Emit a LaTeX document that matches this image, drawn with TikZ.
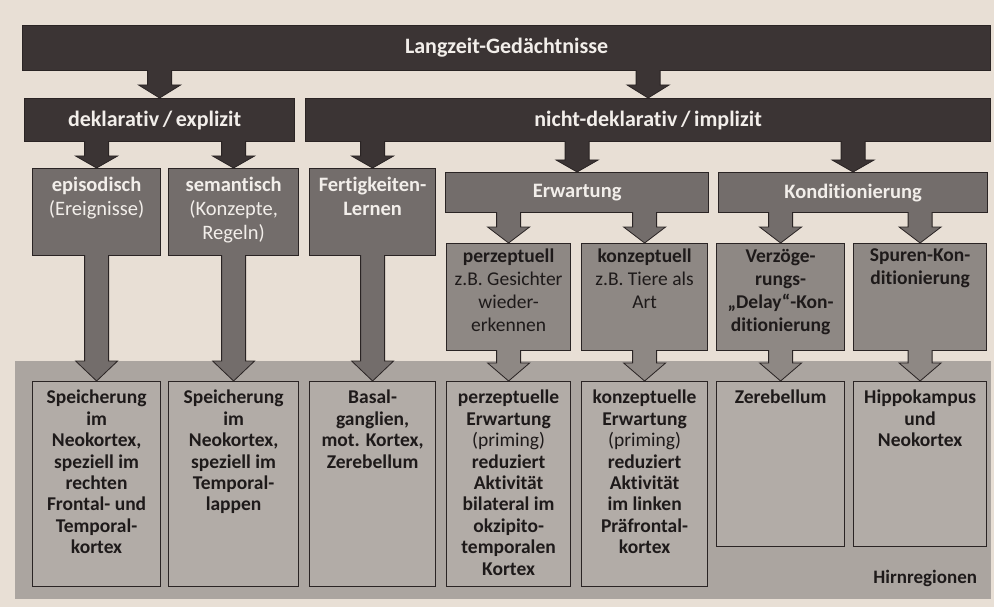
\documentclass[tikz,border=0pt]{standalone}
\usepackage{fontspec}
\setmainfont{Carlito}[Ligatures=NoCommon]
\usetikzlibrary{calc}
\definecolor{bgc}{HTML}{E8DFD5}
\definecolor{darkbar}{HTML}{3B3434}
\definecolor{midbox}{HTML}{736D6B}
\definecolor{lightbox}{HTML}{8E8884}
\definecolor{regionc}{HTML}{ABA5A0}
\definecolor{lowbox}{HTML}{B2ACA7}
\definecolor{outl}{HTML}{2A2424}
\definecolor{lighttxt}{HTML}{F2EEEA}
\definecolor{darktxt}{HTML}{1E1A1A}
\newcommand{\blk}[4]{%
  \path[draw=outl, line width=0.8pt, fill=#1, line join=miter]
    let \p1=(#2), \p2=(#3) in
    (\x2-12pt,\y1+1pt) -- (\x2-12pt,\y2+#4pt) -- (\x2-21pt,\y2+#4pt) -- (\x2,\y2)
    -- (\x2+21pt,\y2+#4pt) -- (\x2+12pt,\y2+#4pt) -- (\x2+12pt,\y1+1pt);
}
\begin{document}
\begin{tikzpicture}[x=1pt,y=-1pt,
  boxbase/.style={draw=outl, line width=1.2pt, inner sep=0pt, anchor=north west},
  barbox/.style={boxbase, fill=darkbar, text=lighttxt, font=\fontsize{22}{26}\selectfont\bfseries},
  midb/.style={boxbase, fill=midbox},
  lightb/.style={boxbase, fill=lightbox},
  lowb/.style={boxbase, fill=lowbox},
  midtxt/.style={anchor=north, align=center, inner sep=0pt, text=lighttxt, font=\fontsize{20.5}{24}\selectfont},
  smalltxt/.style={anchor=north, align=center, inner sep=0pt, text=darktxt, font=\fontsize{19.5}{23}\selectfont},
  lowtxt/.style={anchor=north, align=center, inner sep=0pt, text=darktxt, font=\fontsize{19.5}{21.4}\selectfont\bfseries},
]
\useasboundingbox (0,0) rectangle (994,607);
\fill[bgc] (0,0) rectangle (994,607);
% region
\node[boxbase, draw=none, fill=regionc, minimum width=976pt, minimum height=238pt] (region) at (14,360) {};
\node[anchor=east, inner sep=0pt, text=darktxt, font=\fontsize{19}{21}\selectfont\bfseries] (hirn) at ($(region.south east)+(-14,-21)$) {Hirnregionen};
% bars
\node[barbox, minimum width=968pt, minimum height=45pt] (top) at (22,25) {Langzeit-Gedächtnisse};
\node[barbox, minimum width=270pt, minimum height=43pt] (dek) at (24,98) {};
\node[inner sep=0pt, text=lighttxt, font=\fontsize{22}{26}\selectfont\bfseries] (dektxt) at ($(dek.center)+(-5,0)$) {deklarativ\,/\,explizit};
\node[barbox, minimum width=685pt, minimum height=43pt] (nd) at (305,98) {nicht-deklarativ\,/\,implizit};
% row 3
\node[midb, minimum width=128pt, minimum height=87pt] (epi) at (32,168) {};
\node[midb, minimum width=130pt, minimum height=87pt] (sem) at (168,168) {};
\node[midb, minimum width=126pt, minimum height=87pt] (fer) at (309,168) {};
\node[midb, minimum width=263pt, minimum height=40pt, text=lighttxt, font=\fontsize{20.5}{24}\selectfont\bfseries] (erw) at (445,172) {Erwartung};
\node[midb, minimum width=269pt, minimum height=40pt, text=lighttxt, font=\fontsize{20.5}{24}\selectfont\bfseries] (kon) at (718,172) {Konditionierung};
\node[midtxt] (epitxt) at ($(epi.north)+(0,9)$) {\textbf{episodisch}\\(Ereignisse)};
\node[midtxt] (semtxt) at ($(sem.north)+(0,9)$) {\textbf{semantisch}\\(Konzepte,\\Regeln)};
\node[midtxt] (fertxt) at ($(fer.north)+(0,9)$) {\textbf{Fertigkeiten-}\\\textbf{Lernen}};
% row 4
\node[lightb, minimum width=124pt, minimum height=107pt] (per) at (446,243) {};
\node[lightb, minimum width=126pt, minimum height=107pt] (kzp) at (581,243) {};
\node[lightb, minimum width=128pt, minimum height=107pt] (ver) at (716,243) {};
\node[lightb, minimum width=133pt, minimum height=107pt] (spu) at (853,243) {};
\node[smalltxt] (pertxt) at ($(per.north)+(0,6)$) {\textbf{perzeptuell}\\z.B. Gesichter\\wieder-\\erkennen};
\node[smalltxt] (kzptxt) at ($(kzp.north)+(0,6)$) {\textbf{konzeptuell}\\z.B. Tiere als\\Art};
\node[smalltxt, font=\fontsize{19.5}{23}\selectfont\bfseries] (vertxt) at ($(ver.north)+(0,6)$) {Verzöge-\\rungs-\\„Delay“-Kon-\\ditionierung};
\node[smalltxt, font=\fontsize{19.5}{23}\selectfont\bfseries] (sputxt) at ($(spu.north)+(0,6)$) {Spuren-Kon-\\ditionierung};
% bottom boxes
\node[lowb, minimum width=128pt, minimum height=205pt] (b1) at (32,381) {};
\node[lowb, minimum width=130pt, minimum height=205pt] (b2) at (168,381) {};
\node[lowb, minimum width=126pt, minimum height=205pt] (b3) at (309,381) {};
\node[lowb, minimum width=124pt, minimum height=205pt] (b4) at (446,381) {};
\node[lowb, minimum width=126pt, minimum height=205pt] (b5) at (581,381) {};
\node[lowb, minimum width=128pt, minimum height=165pt] (b6) at (716,381) {};
\node[lowb, minimum width=133pt, minimum height=165pt] (b7) at (853,381) {};
\node[lowtxt] (b1t) at ($(b1.north)+(0,9)$) {Speicherung\\im\\Neokortex,\\speziell im\\rechten\\Frontal- und\\Temporal-\\kortex};
\node[lowtxt] (b2t) at ($(b2.north)+(0,9)$) {Speicherung\\im\\Neokortex,\\speziell im\\Temporal-\\lappen};
\node[lowtxt] (b3t) at ($(b3.north)+(0,9)$) {Basal-\\ganglien,\\mot. Kortex,\\Zerebellum};
\node[lowtxt] (b4t) at ($(b4.north)+(0,9)$) {perzeptuelle\\Erwartung\\{\mdseries(priming)}\\reduziert\\Aktivität\\bilateral im\\okzipito-\\temporalen\\Kortex};
\node[lowtxt] (b5t) at ($(b5.north)+(0,9)$) {konzeptuelle\\Erwartung\\{\mdseries(priming)}\\reduziert\\Aktivität\\im linken\\Präfrontal-\\kortex};
\node[lowtxt] (b6t) at ($(b6.north)+(0,9)$) {Zerebellum};
\node[lowtxt] (b7t) at ($(b7.north)+(0,9)$) {Hippokampus\\und\\Neokortex};
% arrows
\blk{darkbar}{top.south}{dek.north}{13}
\blk{darkbar}{top.south}{nd.north}{13}
\blk{darkbar}{dek.south}{epi.north}{12}
\blk{darkbar}{dek.south}{sem.north}{12}
\blk{darkbar}{nd.south}{fer.north}{12}
\blk{darkbar}{nd.south}{erw.north}{12}
\blk{darkbar}{nd.south}{kon.north}{12}
\blk{midbox}{erw.south}{per.north}{16}
\blk{midbox}{erw.south}{kzp.north}{16}
\blk{midbox}{kon.south}{ver.north}{16}
\blk{midbox}{kon.south}{spu.north}{16}
\blk{midbox}{epi.south}{b1.north}{20}
\blk{midbox}{sem.south}{b2.north}{20}
\blk{midbox}{fer.south}{b3.north}{20}
\blk{lightbox}{per.south}{b4.north}{18}
\blk{lightbox}{kzp.south}{b5.north}{18}
\blk{lightbox}{ver.south}{b6.north}{18}
\blk{lightbox}{spu.south}{b7.north}{18}
\end{tikzpicture}
\end{document}
